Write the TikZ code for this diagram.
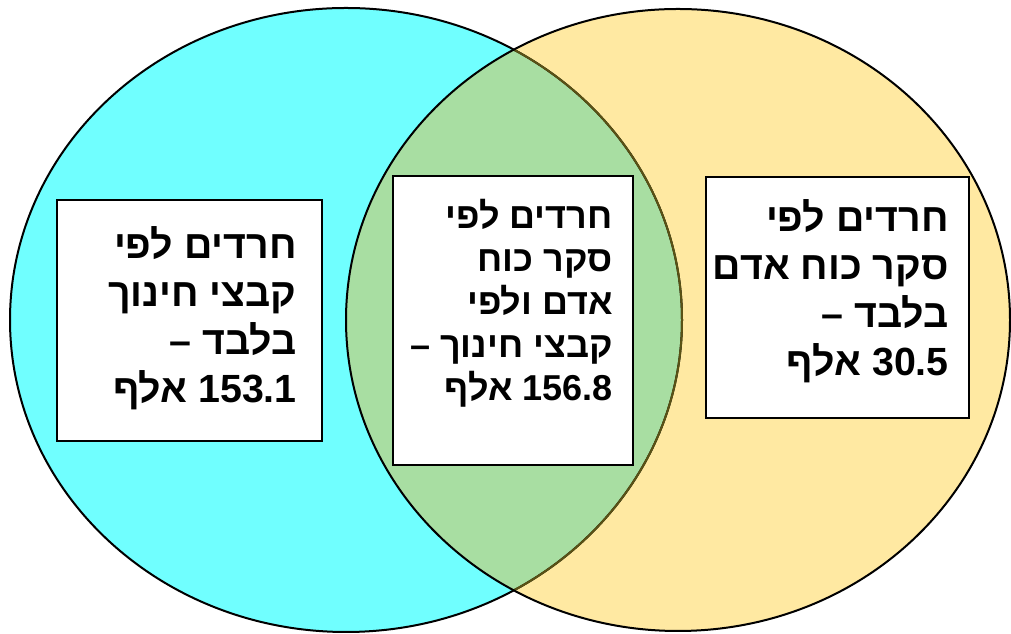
\documentclass[tikz,border=0pt]{standalone}
\usepackage{fontspec}
\usepackage{tikz}
\usetikzlibrary{positioning}
\TeXXeTstate=1
\newfontfamily\hebfont[Script=Hebrew]{Liberation Sans}
\definecolor{educyan}{HTML}{70FFFF}
\definecolor{surveyyellow}{HTML}{FFE9A2}
\definecolor{bothgreen}{HTML}{A8DEA2}
\definecolor{arcolive}{HTML}{5A5214}
\newcommand{\rtlline}[1]{\beginR #1\endR}
\newcommand{\ltrnum}[1]{\beginL #1\endL{}}

\begin{document}
\begin{tikzpicture}[
  x=0.75pt, y=0.75pt,
  ringline/.style={line width=1.5pt},
  groupbox/.style={
    draw=black,
    fill=white,
    line width=1.5pt,
    inner sep=0pt
  },
  grouptext/.style={
    font=\hebfont\bfseries\fontsize{29.5}{36}\selectfont,
    align=right,
    inner sep=0pt,
    anchor=north east,
    text=black
  }
]
  \useasboundingbox (0,0) rectangle (1011,634);

  % =========================================================================
  % THE TWO SETS
  % =========================================================================
  \fill[educyan] (346,314) ellipse [x radius=336, y radius=312];
  \fill[surveyyellow] (678,314) ellipse [x radius=332, y radius=311];
  \begin{scope}
    \clip (346,314) ellipse [x radius=336, y radius=312];
    \fill[bothgreen] (678,314) ellipse [x radius=332, y radius=311];
  \end{scope}
  \draw[ringline, black] (346,314) ellipse [x radius=336, y radius=312];
  \begin{scope}
    \clip (678,314) ellipse [x radius=332, y radius=311];
    \draw[ringline, arcolive] (346,314) ellipse [x radius=336, y radius=312];
  \end{scope}
  \draw[ringline, black] (678,314) ellipse [x radius=332, y radius=311];

  % =========================================================================
  % LABEL BOXES
  % =========================================================================
  \node[groupbox, minimum width=198.75pt, minimum height=180.75pt] (edubox) at (189.5,313.5) {};
  \node[groupbox, minimum width=180pt, minimum height=216.75pt] (bothbox) at (513,313.5) {};
  \node[groupbox, minimum width=197.25pt, minimum height=180.75pt] (surveybox) at (837.5,336.5) {};

  \node[grouptext] (edutext) at ([shift={(-26,-27)}]edubox.north east) {
    \rtlline{חרדים לפי}\\
    \rtlline{קבצי חינוך}\\
    \rtlline{בלבד –}\\
    \rtlline{\ltrnum{153.1} אלף}
  };

  \node[grouptext, font=\hebfont\bfseries\fontsize{27}{32.25}\selectfont] (bothtext) at ([shift={(-21,-24)}]bothbox.north east) {
    \rtlline{חרדים לפי}\\
    \rtlline{סקר כוח}\\
    \rtlline{אדם ולפי}\\
    \rtlline{קבצי חינוך –}\\
    \rtlline{\ltrnum{156.8} אלף}
  };

  \node[grouptext] (surveytext) at ([shift={(-21,-23)}]surveybox.north east) {
    \rtlline{חרדים לפי}\\
    \rtlline{סקר כוח אדם}\\
    \rtlline{בלבד –}\\
    \rtlline{\ltrnum{30.5} אלף}
  };

\end{tikzpicture}
\end{document}
